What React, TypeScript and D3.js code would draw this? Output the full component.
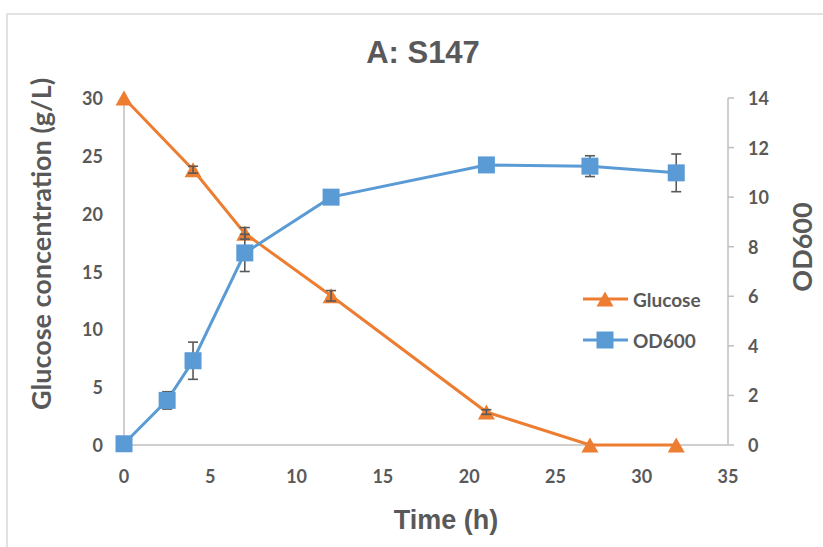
import React from "react";
import * as d3 from "d3";

const timeGlucose = [0, 4, 7, 12, 21, 27, 32];
const glucose = [30, 23.8, 18.3, 12.9, 2.85, 0, 0];
const glucoseErr = [0, 0.3, 0.5, 0.45, 0.2, 0, 0];

const timeOD = [0, 2.5, 4, 7, 12, 21, 27, 32];
const od600 = [0.05, 1.8, 3.4, 7.75, 10.0, 11.3, 11.25, 10.98];
const odErr = [0, 0.35, 0.75, 0.75, 0, 0, 0.42, 0.76];

const xTicks = [0, 5, 10, 15, 20, 25, 30, 35];
const yLeftTicks = [0, 5, 10, 15, 20, 25, 30];
const yRightTicks = [0, 2, 4, 6, 8, 10, 12, 14];

const ORANGE = "#ED7D31";
const BLUE = "#5B9BD5";
const GRAY_TEXT = "#595959";
const AXIS = "#BFBFBF";
const FONT = "Lato, 'Open Sans', sans-serif";
const TITLE_FONT = "'Liberation Sans Narrow', 'Liberation Sans', Arial, sans-serif";

export default function App() {
  const W = 823, H = 547;
  const x = d3.scaleLinear().domain([0, 35]).range([124, 728]);
  const yL = d3.scaleLinear().domain([0, 30]).range([445, 98]);
  const yR = d3.scaleLinear().domain([0, 14]).range([445, 98]);

  const gPts: [number, number][] = timeGlucose.map((t, i) => [t, glucose[i]]);
  const oPts: [number, number][] = timeOD.map((t, i) => [t, od600[i]]);

  const gLine = d3.line<[number, number]>().x(d => x(d[0])).y(d => yL(d[1]))(gPts) || "";
  const oLine = d3.line<[number, number]>().x(d => x(d[0])).y(d => yR(d[1]))(oPts) || "";

  const tri = (cx: number, cy: number, w = 17, h = 15) =>
    `M${cx},${cy - h / 2} L${cx + w / 2},${cy + h / 2} L${cx - w / 2},${cy + h / 2} Z`;
  const sq = 17;

  const errBar = (cx: number, y1: number, y2: number, key: string) => (
    <g key={key} stroke={GRAY_TEXT} strokeWidth={1.6}>
      <line x1={cx} x2={cx} y1={y1} y2={y2} />
      <line x1={cx - 5} x2={cx + 5} y1={y1} y2={y1} />
      <line x1={cx - 5} x2={cx + 5} y1={y2} y2={y2} />
    </g>
  );

  return (
    <svg width={W} height={H} style={{ position: "absolute", left: 0, top: 0 }}>
      <rect x={0} y={0} width={W} height={H} fill="#fff" />
      <rect x={7} y={14} width={W + 20} height={H + 20} fill="#fff" stroke="#D9D9D9" strokeWidth={1.5} />

      {/* axes */}
      <line x1={x(0)} x2={x(0)} y1={yL(30)} y2={yL(0)} stroke={AXIS} strokeWidth={1.5} />
      <line x1={x(0)} x2={x(35)} y1={yL(0)} y2={yL(0)} stroke={AXIS} strokeWidth={1.5} />
      <line x1={x(35)} x2={x(35)} y1={yR(14)} y2={yR(0)} stroke={AXIS} strokeWidth={1.5} />
      {yRightTicks.map(t => (
        <line key={"rt" + t} x1={x(35)} x2={x(35) + 6} y1={yR(t)} y2={yR(t)} stroke={AXIS} strokeWidth={1.5} />
      ))}

      {/* tick labels */}
      {xTicks.map(t => (
        <text key={"x" + t} x={x(t)} y={476} textAnchor="middle" dominantBaseline="central"
          fontFamily={FONT} fontWeight={700} fontSize={18} fill={GRAY_TEXT}>{t}</text>
      ))}
      {yLeftTicks.map(t => (
        <text key={"yl" + t} x={103} y={yL(t)} textAnchor="end" dominantBaseline="central"
          fontFamily={FONT} fontWeight={700} fontSize={18} fill={GRAY_TEXT}>{t}</text>
      ))}
      {yRightTicks.map(t => (
        <text key={"yr" + t} x={748} y={yR(t)} textAnchor="start" dominantBaseline="central"
          fontFamily={FONT} fontWeight={700} fontSize={18} fill={GRAY_TEXT}>{t}</text>
      ))}

      {/* titles */}
      <text x={423} y={52} textAnchor="middle" dominantBaseline="central"
        fontFamily={TITLE_FONT} fontWeight={700} fontSize={31} fill={GRAY_TEXT}>A: S147</text>
      <text x={446} y={520} textAnchor="middle" dominantBaseline="central"
        fontFamily={TITLE_FONT} fontWeight={700} fontSize={27} fill={GRAY_TEXT}>Time (h)</text>
      <text transform={`translate(40,244) rotate(-90)`} textAnchor="middle" dominantBaseline="central"
        fontFamily={FONT} fontWeight={700} fontSize={27} fill={GRAY_TEXT}>Glucose concentration (g/L)</text>
      <text transform={`translate(801,247) rotate(-90)`} textAnchor="middle" dominantBaseline="central"
        fontFamily={FONT} fontWeight={700} fontSize={27} fill={GRAY_TEXT}>OD600</text>

      {/* lines */}
      <path d={gLine} fill="none" stroke={ORANGE} strokeWidth={3} />
      <path d={oLine} fill="none" stroke={BLUE} strokeWidth={3} />

      {/* glucose markers + errors */}
      {gPts.map((p, i) => (
        <path key={"gm" + i} d={tri(x(p[0]), yL(p[1]))} fill={ORANGE} />
      ))}
      {gPts.map((p, i) => glucoseErr[i] > 0 &&
        errBar(x(p[0]), yL(p[1] + glucoseErr[i]), yL(p[1] - glucoseErr[i]), "ge" + i))}

      {/* OD markers + errors */}
      {oPts.map((p, i) => odErr[i] > 0 &&
        errBar(x(p[0]), yR(p[1] + odErr[i]), yR(p[1] - odErr[i]), "oe" + i))}
      {oPts.map((p, i) => (
        <rect key={"om" + i} x={x(p[0]) - sq / 2} y={yR(p[1]) - sq / 2} width={sq} height={sq} fill={BLUE} />
      ))}

      {/* legend */}
      <line x1={583} x2={628} y1={299} y2={299} stroke={ORANGE} strokeWidth={3} />
      <path d={tri(605, 299)} fill={ORANGE} />
      <text x={633} y={299} dominantBaseline="central" fontFamily={FONT} fontWeight={700}
        fontSize={19} fill={GRAY_TEXT}>Glucose</text>
      <line x1={583} x2={628} y1={340} y2={340} stroke={BLUE} strokeWidth={3} />
      <rect x={605 - sq / 2} y={340 - sq / 2} width={sq} height={sq} fill={BLUE} />
      <text x={633} y={340} dominantBaseline="central" fontFamily={FONT} fontWeight={700}
        fontSize={19} fill={GRAY_TEXT}>OD600</text>
    </svg>
  );
}
